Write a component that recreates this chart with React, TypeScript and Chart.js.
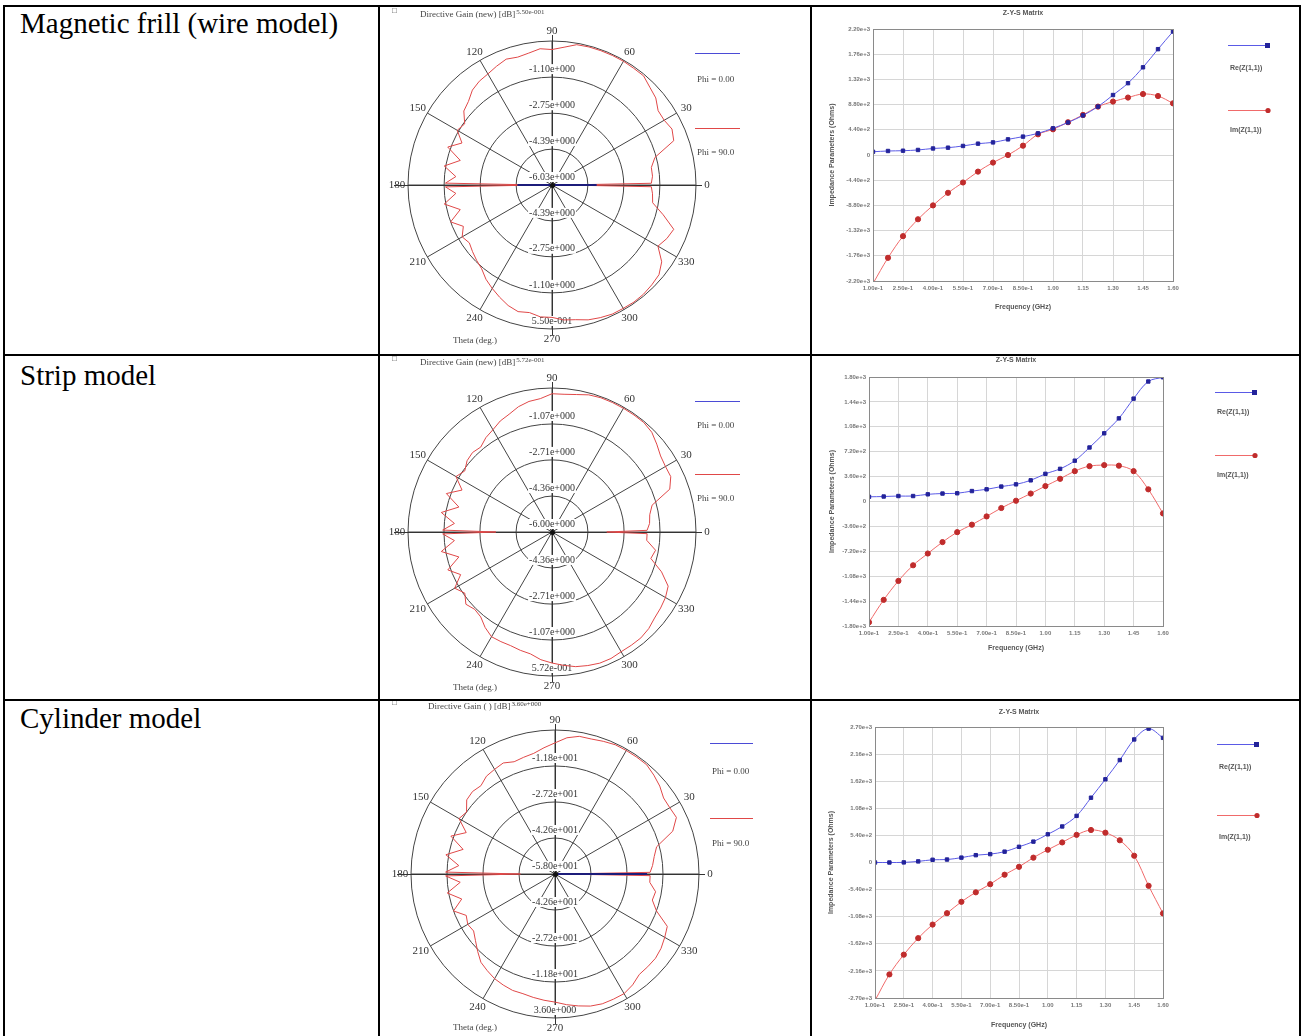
import React, { useEffect, useRef } from 'react';
import { Chart, registerables } from 'chart.js';

Chart.register(...registerables);

const SERIF = '"Liberation Serif", "Times New Roman", serif';
const SANS = '"Liberation Sans", Arial, sans-serif';

// ---------------- DATA ----------------
const rowLabels = ['Magnetic frill (wire model)', 'Strip model', 'Cylinder model'];

// Polar patterns: theta in degrees (counter-clockwise from 0 on the right)
const polarTheta = [0, 1, 5, 10, 15, 20, 25, 30, 35, 40, 45, 50, 55, 60, 65, 70, 75, 80, 85, 90, 95, 100, 105, 110, 115, 120, 125, 130, 135, 140, 145, 150, 155, 160, 165, 170, 175, 179, 180, 181, 185, 190, 195, 200, 205, 210, 215, 220, 225, 230, 235, 240, 245, 250, 255, 260, 265, 270, 275, 280, 285, 290, 295, 300, 305, 310, 315, 320, 325, 330, 335, 340, 345, 350, 355, 359];

// Directive gain, Phi = 90 (red), dB
const gain1Phi90 = [-5.37, -1.49, -1.42, -1.42, -1.16, -0.11, 0.02, -0.11, -0.11, 0.16, 0.29, 0.48, 0.48, 0.5, 0.5, 0.5, 0.5, 0.48, 0.29, 0.16, 0.22, 0.09, 0.02, 0.09, -0.04, -0.17, -0.24, -0.37, -0.63, -0.77, -1.16, -1.03, -1.49, -0.96, -1.69, -1.03, -1.62, -1.16, -5.37, -1.16, -1.62, -1.03, -1.69, -1.1, -1.56, -1.29, -1.42, -1.29, -1.16, -1.03, -0.77, -0.57, -0.37, -0.17, -0.04, -0.11, 0.02, 0.02, 0.16, 0.22, 0.35, 0.42, 0.48, 0.48, 0.5, 0.48, 0.42, 0.35, 0.09, -0.44, -0.24, -0.11, -0.77, -1.36, -1.42, -1.49];
const gain2Phi90 = [-3.5, -1.66, -1.53, -1.47, -1.27, -0.28, -0.02, -0.02, 0.05, 0.24, 0.44, 0.52, 0.52, 0.52, 0.52, 0.52, 0.48, 0.37, 0.31, 0.31, 0.11, 0.05, -0.08, -0.28, -0.41, -0.61, -0.74, -0.94, -0.87, -0.94, -1.14, -0.94, -1.47, -0.87, -1.6, -0.87, -1.53, -1.01, -3.44, -1.01, -1.53, -0.87, -1.6, -0.94, -1.4, -0.87, -1.14, -0.87, -1.01, -0.94, -0.68, -0.48, -0.48, -0.48, -0.41, -0.35, -0.15, -0.02, 0.11, 0.24, 0.31, 0.37, 0.37, 0.31, 0.31, 0.31, 0.24, 0.11, 0.05, -0.02, -0.15, -0.68, -1.33, -1.2, -1.66, -1.66];
const gain3Phi90 = [-54.9, -17.3, -16.1, -14.9, -13.0, -4.4, -0.7, -1.3, -1.3, 0.5, 1.8, 3.0, 3.0, 3.0, 3.0, 2.4, 1.8, 1.8, 0.5, -1.9, -3.8, -5.6, -6.3, -6.9, -5.6, -6.3, -6.9, -8.7, -8.1, -8.7, -11.8, -10.6, -16.1, -10.6, -17.3, -10.6, -16.7, -11.2, -43.2, -11.2, -17.3, -11.2, -16.7, -11.8, -16.1, -14.9, -15.5, -13.6, -11.2, -8.7, -7.5, -6.3, -5.6, -5.0, -5.0, -4.4, -3.8, -3.2, -1.9, -0.7, 0.5, 1.1, 1.1, 1.1, -0.1, -1.9, -1.9, -1.9, -2.6, -3.8, -5.0, -11.8, -14.9, -14.3, -17.3, -17.3];

// Directive gain, Phi = 0 (blue), dB  (sparse)
const phi0Theta1 = [359, 0, 1, 179, 180, 181];
const gain1Phi0 = [-6.03, -3.99, -6.03, -6.03, -4.45, -6.03];
const phi0Theta2 = [0, 90, 180, 270];
const gain2Phi0 = [-6.0, -6.0, -6.0, -6.0];
const phi0Theta3 = [359, 0, 1, 179, 180, 181];
const gain3Phi0 = [-58.0, -18.6, -58.0, -58.0, -58.0, -58.0];

// Radial rings (dB)
const gain1Rings = [-6.03, -4.39, -2.75, -1.1, 0.55];
const gain2Rings = [-6.0, -4.36, -2.71, -1.07, 0.572];
const gain3Rings = [-58.0, -42.6, -27.2, -11.8, 3.6];
const angleTicks = [0, 30, 60, 90, 120, 150, 180, 210, 240, 270, 300, 330];

// Impedance vs frequency
const freqGHz = [0.1, 0.175, 0.25, 0.325, 0.4, 0.475, 0.55, 0.625, 0.7, 0.775, 0.85, 0.925, 1.0, 1.075, 1.15, 1.225, 1.3, 1.375, 1.45, 1.525, 1.6];
const freqTicks = [0.1, 0.25, 0.4, 0.55, 0.7, 0.85, 1.0, 1.15, 1.3, 1.45, 1.6];

const z1Re = [57, 70, 75, 88, 114, 128, 158, 198, 220, 273, 321, 378, 466, 568, 691, 845, 1047, 1254, 1531, 1848, 2156];
const z1Im = [-2244, -1795, -1417, -1122, -880, -660, -480, -290, -132, 0, 163, 361, 449, 572, 700, 845, 933, 1003, 1065, 1030, 902];
const z1Ticks = [-2200, -1760, -1320, -880, -440, 0, 440, 880, 1320, 1760, 2200];

const z2Re = [68, 72, 79, 79, 104, 115, 119, 151, 176, 216, 248, 306, 400, 472, 590, 781, 986, 1202, 1487, 1735, 1796];
const z2Im = [-1746, -1422, -1148, -922, -752, -587, -443, -335, -216, -94, 11, 115, 223, 328, 439, 511, 526, 518, 439, 176, -173];
const z2Ticks = [-1800, -1440, -1080, -720, -360, 0, 360, 720, 1080, 1440, 1800];

const z3Re = [0, 0, 2, 22, 54, 59, 97, 146, 167, 216, 313, 416, 562, 718, 929, 1291, 1658, 2041, 2452, 2668, 2484];
const z3Im = [-2749, -2230, -1836, -1507, -1237, -1010, -783, -594, -432, -243, -86, 97, 254, 400, 551, 648, 594, 443, 135, -464, -1015];
const z3Ticks = [-2700, -2160, -1620, -1080, -540, 0, 540, 1080, 1620, 2160, 2700];

// ---------------- HELPERS ----------------
function fmtE3(v: number): string {
  const s = v.toExponential(2);
  const [m, e] = s.split('e');
  const sign = e[0];
  const d = e.slice(1).padStart(3, '0');
  return `${m}e${sign}${d}`;
}
function fmtZ(v: number): string {
  if (v === 0) return '0';
  return v.toExponential(2);
}
function fmtF(v: number): string {
  return v < 1 ? v.toExponential(2) : v.toFixed(2);
}

function toRadarArray(thetas: number[], vals: number[]) {
  const a: (number | null)[] = new Array(360).fill(null);
  thetas.forEach((t, k) => {
    a[(360 - t) % 360] = vals[k];
  });
  return a;
}

// ---------------- POLAR ----------------
type PolarProps = {
  top: number;
  height: number;
  cx: number;
  cy: number;
  rings: number[];
  red: number[];
  blueTheta: number[];
  blue: number[];
  title: string;
  titleX: number;
  titleY: number;
  legendX: number;
  legendClip: number;
  legendY: number[];
  thetaY: number;
};

function PolarPlot(p: PolarProps) {
  const ref = useRef<HTMLCanvasElement | null>(null);
  useEffect(() => {
    const W = 430;
    const H = p.height;
    const R = 144;
    const labels = Array.from({ length: 360 }, (_, i) => String((360 - i) % 360));
    const min = p.rings[0];
    const max = p.rings[p.rings.length - 1];
    const decor = {
      id: 'polarDecor',
      beforeDatasetsDraw(chart: any) {
        const s = chart.scales.r;
        const ctx = chart.ctx as CanvasRenderingContext2D;
        const cx = s.xCenter;
        const cy = s.yCenter;
        ctx.save();
        ctx.strokeStyle = '#333';
        ctx.lineWidth = 1;
        ctx.beginPath();
        ctx.moveTo(cx - R - 14, cy + 0.5);
        ctx.lineTo(cx + R + 6, cy + 0.5);
        ctx.moveTo(cx + 0.5, cy - R - 6);
        ctx.lineTo(cx + 0.5, cy + R + 6);
        ctx.stroke();
        // ring labels
        ctx.font = `10px ${SERIF}`;
        ctx.textAlign = 'center';
        ctx.textBaseline = 'middle';
        const drawLab = (txt: string, x: number, y: number) => {
          const w = ctx.measureText(txt).width;
          ctx.fillStyle = '#ffffff';
          ctx.fillRect(x - w / 2 - 1, y - 5, w + 2, 10);
          ctx.fillStyle = '#333';
          ctx.fillText(txt, x, y);
        };
        p.rings.forEach((v, k) => {
          const d = s.getDistanceFromCenterForValue(v);
          if (k < p.rings.length - 1) drawLab(fmtE3(v), cx, cy - d - 8);
          if (k > 0) drawLab(fmtE3(v), cx, cy + d - 8);
        });
        ctx.restore();
      },
      afterDatasetsDraw(chart: any) {
        const s = chart.scales.r;
        const ctx = chart.ctx as CanvasRenderingContext2D;
        ctx.save();
        ctx.fillStyle = '#111';
        ctx.beginPath();
        ctx.arc(s.xCenter + 0.5, s.yCenter + 0.5, 2.5, 0, Math.PI * 2);
        ctx.fill();
        ctx.restore();
      },
      afterDraw(chart: any) {
        const s = chart.scales.r;
        const ctx = chart.ctx as CanvasRenderingContext2D;
        const cx = s.xCenter;
        const cy = s.yCenter;
        ctx.save();
        ctx.fillStyle = '#333';
        ctx.font = `11px ${SERIF}`;
        ctx.textAlign = 'center';
        ctx.textBaseline = 'middle';
        angleTicks.forEach((t) => {
          const a = (t * Math.PI) / 180;
          const x = cx + (R + 11) * Math.cos(a);
          const y = cy - (R + 10) * Math.sin(a);
          ctx.fillText(String(t), x, y);
        });
        // title
        ctx.textAlign = 'left';
        ctx.font = `8px ${SERIF}`;
        ctx.fillStyle = '#444';
        ctx.fillText('\u25A1', 12, p.titleY - 4);
        ctx.font = `9px ${SERIF}`;
        ctx.fillText(p.title, p.titleX, p.titleY);
        const tw = ctx.measureText(p.title).width;
        ctx.font = `7px ${SERIF}`;
        ctx.fillText(fmtE3(max), p.titleX + tw + 1, p.titleY - 3);
        ctx.font = `9px ${SERIF}`;
        ctx.fillText('Theta (deg.)', 73, p.thetaY);
        // legend
        ctx.beginPath();
        ctx.rect(0, 0, p.legendClip, H);
        ctx.clip();
        ctx.lineWidth = 1;
        ctx.strokeStyle = '#4b4bd6';
        ctx.beginPath();
        ctx.moveTo(p.legendX - 2, p.legendY[0] + 0.5);
        ctx.lineTo(p.legendClip, p.legendY[0] + 0.5);
        ctx.stroke();
        ctx.strokeStyle = '#e04848';
        ctx.beginPath();
        ctx.moveTo(p.legendX - 2, p.legendY[2] + 0.5);
        ctx.lineTo(p.legendClip, p.legendY[2] + 0.5);
        ctx.stroke();
        ctx.fillStyle = '#444';
        ctx.font = `9px ${SERIF}`;
        ctx.fillText('Phi = 0.00', p.legendX, p.legendY[1]);
        ctx.fillText('Phi = 90.0', p.legendX, p.legendY[3]);
        ctx.restore();
      },
    };
    const chart = new Chart(ref.current as HTMLCanvasElement, {
      type: 'radar',
      data: {
        labels,
        datasets: [
          {
            label: 'Phi = 0.00',
            data: toRadarArray(p.blueTheta, p.blue),
            borderColor: '#1c1c7a',
            borderWidth: 2,
            fill: false,
            spanGaps: true,
            pointRadius: 0,
          },
          {
            label: 'Phi = 90.0',
            data: toRadarArray(polarTheta, p.red),
            borderColor: '#e04848',
            borderWidth: 1,
            fill: false,
            spanGaps: true,
            pointRadius: 0,
          },
        ],
      },
      options: {
        responsive: false,
        animation: false,
        devicePixelRatio: 1,
        layout: {
          padding: { left: p.cx - R, top: p.cy - R, right: W - p.cx - R, bottom: H - p.cy - R },
        },
        plugins: { legend: { display: false }, tooltip: { enabled: false }, title: { display: false } },
        elements: { point: { radius: 0 }, line: { tension: 0 } },
        scales: {
          r: {
            min,
            max,
            startAngle: 90,
            afterBuildTicks: (axis: any) => {
              axis.ticks = p.rings.map((v) => ({ value: v }));
            },
            ticks: { display: false },
            pointLabels: { display: false },
            grid: { circular: true, color: '#444', lineWidth: 1 },
            angleLines: {
              display: true,
              color: '#444',
              lineWidth: (c: any) => (c.index % 30 === 0 ? 1 : 0),
            },
          },
        },
      } as any,
      plugins: [decor],
    });
    return () => chart.destroy();
  }, []);
  return (
    <canvas
      ref={ref}
      width={430}
      height={p.height}
      style={{ position: 'absolute', left: 380, top: p.top, width: 430, height: p.height }}
    />
  );
}

// ---------------- IMPEDANCE ----------------
type ZProps = {
  top: number;
  height: number;
  area: { left: number; right: number; top: number; bottom: number };
  re: number[];
  im: number[];
  yTicks: number[];
  titleY: number;
  xTitleY: number;
  yTitleX: number;
  legendX: number;
  legendY: number[];
};

function ZPlot(p: ZProps) {
  const ref = useRef<HTMLCanvasElement | null>(null);
  useEffect(() => {
    const W = 487;
    const H = p.height;
    const decor = {
      id: 'zDecor',
      afterDraw(chart: any) {
        const ctx = chart.ctx as CanvasRenderingContext2D;
        const a = chart.chartArea;
        ctx.save();
        ctx.strokeStyle = '#8a8a8a';
        ctx.lineWidth = 1;
        ctx.strokeRect(a.left + 0.5, a.top + 0.5, a.right - a.left, a.bottom - a.top);
        const mid = (a.left + a.right) / 2;
        ctx.fillStyle = '#555';
        ctx.textAlign = 'center';
        ctx.textBaseline = 'middle';
        ctx.font = `bold 7px ${SANS}`;
        ctx.fillText('Z-Y-S Matrix', mid, p.titleY);
        ctx.fillText('Frequency (GHz)', mid, p.xTitleY);
        ctx.save();
        ctx.translate(p.yTitleX, (a.top + a.bottom) / 2);
        ctx.rotate(-Math.PI / 2);
        ctx.fillText('Impedance Parameters (Ohms)', 0, 0);
        ctx.restore();
        // legend
        const lx = p.legendX;
        const drawItem = (y: number, ty: number, line: string, mark: string, txt: string, rect: boolean) => {
          ctx.strokeStyle = line;
          ctx.beginPath();
          ctx.moveTo(lx, y + 0.5);
          ctx.lineTo(lx + 40, y + 0.5);
          ctx.stroke();
          ctx.fillStyle = mark;
          if (rect) ctx.fillRect(lx + 37, y - 2, 5, 5);
          else {
            ctx.beginPath();
            ctx.arc(lx + 40, y + 0.5, 2.6, 0, Math.PI * 2);
            ctx.fill();
          }
          ctx.fillStyle = '#555';
          ctx.textAlign = 'left';
          ctx.font = `bold 7px ${SANS}`;
          ctx.fillText(txt, lx + 2, ty);
        };
        drawItem(p.legendY[0], p.legendY[1], '#5a5ae6', '#23239a', 'Re(Z(1,1))', true);
        drawItem(p.legendY[2], p.legendY[3], '#f06a6a', '#c02c2c', 'Im(Z(1,1))', false);
        ctx.restore();
      },
    };
    const tickFont = { size: 6, family: SANS, weight: 'bold' as const };
    const chart = new Chart(ref.current as HTMLCanvasElement, {
      type: 'line',
      data: {
        datasets: [
          {
            label: 'Re(Z(1,1))',
            data: freqGHz.map((f, i) => ({ x: f, y: p.re[i] })),
            borderColor: '#5a5ae6',
            borderWidth: 1,
            pointStyle: 'rect',
            pointRadius: 2.4,
            pointBackgroundColor: '#23239a',
            pointBorderColor: '#23239a',
            tension: 0.35,
            fill: false,
          },
          {
            label: 'Im(Z(1,1))',
            data: freqGHz.map((f, i) => ({ x: f, y: p.im[i] })),
            borderColor: '#f06a6a',
            borderWidth: 1,
            pointStyle: 'circle',
            pointRadius: 2.6,
            pointBackgroundColor: '#c02c2c',
            pointBorderColor: '#c02c2c',
            tension: 0.35,
            fill: false,
          },
        ],
      },
      options: {
        responsive: false,
        animation: false,
        devicePixelRatio: 1,
        layout: {
          padding: { left: 0, top: p.area.top, right: W - p.area.right, bottom: H - p.area.bottom - 20 },
        },
        plugins: { legend: { display: false }, tooltip: { enabled: false }, title: { display: false } },
        scales: {
          x: {
            type: 'linear',
            min: freqTicks[0],
            max: freqTicks[freqTicks.length - 1],
            afterBuildTicks: (s: any) => {
              s.ticks = freqTicks.map((v) => ({ value: v }));
            },
            afterFit: (s: any) => {
              s.height = 20;
              s.paddingLeft = 0;
              s.paddingRight = 0;
            },
            ticks: {
              callback: (v: any) => fmtF(Number(v)),
              font: tickFont,
              color: '#777',
              maxRotation: 0,
              minRotation: 0,
              autoSkip: false,
              padding: 4,
            },
            grid: { color: '#d6d6d6', drawTicks: false },
            border: { color: '#8a8a8a' },
          },
          y: {
            type: 'linear',
            min: p.yTicks[0],
            max: p.yTicks[p.yTicks.length - 1],
            afterBuildTicks: (s: any) => {
              s.ticks = p.yTicks.map((v) => ({ value: v }));
            },
            afterFit: (s: any) => {
              s.width = p.area.left;
              s.paddingTop = 0;
              s.paddingBottom = 0;
            },
            ticks: {
              callback: (v: any) => fmtZ(Number(v)),
              font: tickFont,
              color: '#777',
              autoSkip: false,
              padding: 3,
            },
            grid: { color: '#d6d6d6', drawTicks: false },
            border: { color: '#8a8a8a' },
          },
        },
      } as any,
      plugins: [decor],
    });
    return () => chart.destroy();
  }, []);
  return (
    <canvas
      ref={ref}
      width={487}
      height={p.height}
      style={{ position: 'absolute', left: 812, top: p.top, width: 487, height: p.height }}
    />
  );
}

// ---------------- APP ----------------
const line = (l: number, t: number, w: number, h: number) => (
  <div style={{ position: 'absolute', left: l, top: t, width: w, height: h, background: '#000', zIndex: 5 }} />
);

export default function App() {
  const labelStyle = (top: number): React.CSSProperties => ({
    position: 'absolute',
    left: 20,
    top,
    fontFamily: SERIF,
    fontSize: 29,
    lineHeight: '29px',
    color: '#000',
    whiteSpace: 'nowrap',
  });
  return (
    <div
      style={{
        position: 'fixed',
        left: 0,
        top: 0,
        width: 1304,
        height: 1036,
        background: '#fff',
        overflow: 'hidden',
      }}
    >
      <div style={labelStyle(9)}>{rowLabels[0]}</div>
      <div style={labelStyle(361)}>{rowLabels[1]}</div>
      <div style={labelStyle(704)}>{rowLabels[2]}</div>

      <PolarPlot
        top={0}
        height={354}
        cx={172}
        cy={185}
        rings={gain1Rings}
        red={gain1Phi90}
        blueTheta={phi0Theta1}
        blue={gain1Phi0}
        title="Directive Gain (new) [dB]"
        titleX={40}
        titleY={15}
        legendX={317}
        legendClip={360}
        legendY={[53, 80, 128, 153]}
        thetaY={341}
      />
      <PolarPlot
        top={354}
        height={346}
        cx={172}
        cy={178}
        rings={gain2Rings}
        red={gain2Phi90}
        blueTheta={phi0Theta2}
        blue={gain2Phi0}
        title="Directive Gain (new) [dB]"
        titleX={40}
        titleY={9}
        legendX={317}
        legendClip={360}
        legendY={[47, 72, 120, 145]}
        thetaY={334}
      />
      <PolarPlot
        top={700}
        height={336}
        cx={175}
        cy={174}
        rings={gain3Rings}
        red={gain3Phi90}
        blueTheta={phi0Theta3}
        blue={gain3Phi0}
        title="Directive Gain ( ) [dB]"
        titleX={48}
        titleY={7}
        legendX={332}
        legendClip={373}
        legendY={[43, 72, 118, 144]}
        thetaY={328}
      />

      <ZPlot
        top={0}
        height={354}
        area={{ left: 61, right: 361, top: 29, bottom: 281 }}
        re={z1Re}
        im={z1Im}
        yTicks={z1Ticks}
        titleY={13}
        xTitleY={307}
        yTitleX={20}
        legendX={416}
        legendY={[45, 68, 110, 130]}
      />
      <ZPlot
        top={354}
        height={346}
        area={{ left: 57, right: 351, top: 23, bottom: 272 }}
        re={z2Re}
        im={z2Im}
        yTicks={z2Ticks}
        titleY={6}
        xTitleY={294}
        yTitleX={20}
        legendX={403}
        legendY={[38, 58, 101, 121]}
      />
      <ZPlot
        top={700}
        height={336}
        area={{ left: 63, right: 351, top: 27, bottom: 298 }}
        re={z3Re}
        im={z3Im}
        yTicks={z3Ticks}
        titleY={12}
        xTitleY={325}
        yTitleX={19}
        legendX={405}
        legendY={[44, 67, 115, 137]}
      />

      {line(3, 5, 1298, 2)}
      {line(3, 5, 2, 1031)}
      {line(1299, 5, 2, 1031)}
      {line(378, 5, 2, 1031)}
      {line(810, 5, 2, 1031)}
      {line(3, 354, 1298, 2)}
      {line(3, 699, 1298, 2)}
    </div>
  );
}
